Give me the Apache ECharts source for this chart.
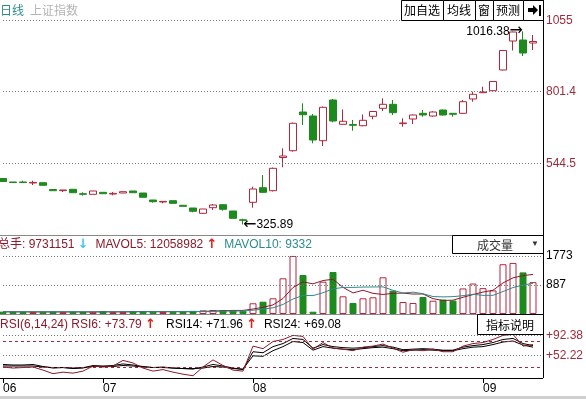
<!DOCTYPE html>
<html>
<head>
<meta charset="utf-8">
<script src="https://cdn.jsdelivr.net/npm/echarts@6/dist/echarts.min.js"></script>
<style>
html, body { margin: 0; padding: 0; background: #fff; }
#chart { width: 586px; height: 399px; }
</style>
</head>
<body>
<div id="chart"></div>
<script>
// 上证指数 日线, 54 trading days
const monthTicks = [0, 10, 25, 48];
const monthLabels = ['06', '07', '08', '09'];

const openList = [490.2, 477.7, 477.7, 474.1, 475.2, 450.8, 446.9, 451.6, 435.8, 433.7,
  440.8, 434.7, 438.3, 445.5, 438.3, 413.3, 406.2, 410.8, 394.4, 384.7,
  365.8, 385.8, 396.5, 374.0, 342.5, 405.1, 457.3, 446.6, 565.2, 589.5,
  727.9, 713.6, 625.3, 770.8, 683.9, 683.2, 678.9, 712.5, 741.1, 755.4,
  686.4, 702.9, 723.2, 713.6, 735.0, 723.2, 723.2, 774.4, 796.9, 804.1,
  878.1, 981.7, 985.3, 974.6];
const closeList = [479.4, 475.9, 475.9, 476.2, 465.9, 446.6, 449.1, 439.4, 433.7, 445.5,
  435.8, 436.9, 443.0, 439.4, 423.0, 407.2, 408.3, 401.5, 390.8, 372.9,
  381.1, 395.4, 380.1, 347.9, 340.7, 452.6, 440.8, 526.6, 570.6, 687.5,
  718.3, 627.8, 744.7, 695.7, 694.7, 680.4, 698.2, 729.7, 755.4, 725.4,
  688.6, 717.2, 717.2, 727.9, 717.2, 719.7, 764.7, 791.2, 799.4, 837.0,
  947.8, 1013.9, 938.8, 980.0];
const lowList = [477.7, 475.9, 475.9, 466.9, 465.9, 446.6, 441.9, 439.4, 428.7, 433.7,
  435.8, 430.1, 438.3, 439.4, 423.0, 403.7, 401.5, 401.5, 390.8, 369.3,
  363.3, 377.6, 375.1, 347.9, 325.89, 385.8, 438.3, 443.7, 530.2, 586.0,
  681.4, 616.0, 606.4, 691.1, 683.2, 661.0, 676.8, 701.8, 731.5, 717.2,
  675.4, 685.0, 711.1, 711.1, 715.4, 711.1, 720.8, 764.7, 796.9, 803.0,
  876.3, 947.8, 928.1, 949.5];
const highList = [491.9, 477.7, 482.3, 482.3, 475.2, 450.8, 449.1, 451.6, 440.8, 445.5,
  440.8, 441.9, 443.0, 445.5, 438.3, 413.3, 409.7, 410.8, 394.4, 384.7,
  381.1, 399.0, 399.0, 374.0, 346.4, 460.9, 502.7, 529.5, 598.1, 690.4,
  759.0, 720.8, 747.6, 774.4, 736.8, 699.3, 719.0, 731.5, 776.9, 770.8,
  705.4, 719.0, 735.0, 730.4, 736.8, 724.3, 770.8, 800.5, 818.3, 838.7,
  947.8, 1015.7, 1016.38, 1003.2];

// 成交量 (万手)
const volList = [72, 65, 60, 62, 68, 70, 58, 66, 60, 64,
  90, 60, 62, 85, 88, 70, 62, 65, 70, 95,
  110, 120, 115, 105, 95, 327, 376, 480, 1090, 1773,
  1191, 70, 987, 1283, 540, 336, 480, 510, 1121, 712,
  367, 336, 519, 406, 440, 410, 780, 930, 790, 720,
  1520, 1560, 1270, 973];
const mavol5 = [68, 67, 66, 65, 65, 65, 64, 65, 64, 64,
  68, 68, 67, 72, 77, 73, 73, 74, 71, 72,
  80, 92, 102, 109, 109, 152, 204, 277, 474, 809,
  982, 921, 1022, 1061, 814, 643, 725, 630, 597, 632,
  638, 609, 611, 468, 414, 422, 511, 593, 670, 726,
  948, 1104, 1172, 1209];
const mavol10 = [66, 66, 66, 66, 66, 66, 66, 66, 66, 65,
  66, 66, 66, 68, 70, 70, 71, 71, 72, 75,
  77, 83, 88, 90, 91, 116, 148, 189, 291, 459,
  567, 562, 649, 767, 812, 813, 823, 826, 829, 723,
  641, 667, 620, 533, 523, 530, 560, 602, 569, 570,
  685, 808, 883, 939];

const rsi6 = [30, 28, 29, 30, 24, 17, 20, 18, 22, 32,
  30, 32, 43, 38, 28, 22, 25, 20, 16, 13,
  30, 44, 33, 24, 22, 71, 66, 80, 84, 92,
  90, 65, 78, 67, 65, 62, 69, 71, 75, 67,
  59, 64, 62, 65, 60, 60, 71, 76, 78, 84,
  92, 94, 71, 74];
const rsi14 = [35, 34, 34, 35, 31, 28, 29, 27, 28, 33,
  32, 33, 36, 34, 31, 29, 30, 28, 27, 26,
  30, 35, 32, 28, 25, 60, 58, 70, 76, 86,
  84, 67, 74, 70, 68, 67, 68, 70, 72, 69,
  64, 65, 66, 65, 63, 63, 69, 72, 74, 78,
  84, 86, 76, 72];
const rsi24 = [32, 32, 32, 32, 30, 29, 29, 28, 29, 31,
  31, 31, 33, 32, 30, 29, 29, 28, 27, 27,
  28, 31, 30, 27, 26, 52, 51, 62, 70, 80,
  78, 63, 70, 67, 65, 64, 66, 68, 69, 66,
  62, 63, 64, 63, 62, 62, 66, 69, 70, 74,
  79, 81, 73, 69];

const priceTicks = [1055, 801.4, 544.5];
const volTicks = [1773, 887];
const rsiTicks = [92.38, 52.22];
const rsiBands = [80, 30];

const RED = '#b3273d';
const GREEN = '#1d8a1d';
const LABEL_RED = '#9c2b3c';
const DARK_RED = '#8b1a2b';
const TEAL = '#2e8b8b';
const FONT = '"Liberation Sans", "Noto Sans CJK SC", sans-serif';
const CJK = '"Noto Sans CJK SC", sans-serif';
const ARROW = '"DejaVu Sans", sans-serif';

// one extra empty slot at the right end
const cats = openList.map((_, i) => String(i)).concat([String(openList.length)]);
const candles = openList.map((o, i) => [o, closeList[i], lowList[i], highList[i]]);
const volBars = volList.map((v, i) => closeList[i] >= openList[i]
  ? { value: v, itemStyle: { color: '#fff', borderColor: RED, borderWidth: 1 } }
  : { value: v, itemStyle: { color: GREEN, borderColor: GREEN, borderWidth: 1 } });

function xAxisOf(idx) {
  return {
    type: 'category', gridIndex: idx, data: cats, boundaryGap: false,
    axisLine: { show: false }, axisTick: { show: false },
    axisLabel: { show: false }, splitLine: { show: false }
  };
}

function dotted(values, color, prefix) {
  return values.map(v => ({
    yAxis: v,
    label: { formatter: prefix + v, color: color }
  }));
}

const hline = (x1, y1, x2, y2, color) => ({
  type: 'line', silent: true, z: 10,
  shape: { x1: x1, y1: y1, x2: x2, y2: y2 },
  style: { stroke: color, lineWidth: 1 }
});
const txt = (x, y, text, fill, font, align) => ({
  type: 'text', silent: true, z: 12, x: x, y: y,
  style: { text: text, fill: fill, font: font, verticalAlign: 'middle', align: align || 'left' }
});
const box = (x, y, w, h) => ({
  type: 'rect', silent: true, z: 11,
  shape: { x: x + 0.5, y: y + 0.5, width: w, height: h },
  style: { fill: '#fff', stroke: '#000', lineWidth: 1 }
});

function initChart() {
  let chart = echarts.init(document.getElementById('chart'));
  const x3 = xAxisOf(2);
  x3.axisTick = {
    show: true, length: 5, lineStyle: { color: '#000' },
    interval: (i) => monthTicks.includes(i)
  };
  x3.axisLabel = {
    show: true, align: 'left', margin: 5, fontSize: 12, color: '#000', fontFamily: FONT,
    interval: (i) => monthTicks.includes(i),
    formatter: (v) => {
      const j = monthTicks.indexOf(+v);
      return j >= 0 ? monthLabels[j] : '';
    }
  };

  chart.setOption({
    animation: false,
    backgroundColor: '#fff',
    textStyle: { fontFamily: FONT },
    grid: [
      { left: 3, width: 540, top: 20, height: 215, outerBoundsMode: 'none' },
      { left: 3, width: 540, top: 235, height: 79, outerBoundsMode: 'none' },
      { left: 3, width: 540, top: 316, height: 62, outerBoundsMode: 'none' }
    ],
    xAxis: [xAxisOf(0), xAxisOf(1), x3],
    yAxis: [
      { type: 'value', gridIndex: 0, min: 288.2, max: 1056.8, show: false },
      { type: 'value', gridIndex: 1, min: 0, max: 2413, show: false },
      { type: 'value', gridIndex: 2, min: 8.5, max: 130, show: false }
    ],
    series: [
      {
        name: '日线', type: 'candlestick', xAxisIndex: 0, yAxisIndex: 0,
        data: candles, barWidth: 7, clip: false,
        itemStyle: { color: '#fff', color0: GREEN, borderColor: RED, borderColor0: GREEN, borderWidth: 1 },
        markLine: {
          symbol: 'none', silent: true,
          lineStyle: { color: '#777', type: [1, 2], width: 1 },
          label: { position: 'end', distance: 3, fontSize: 12, fontFamily: FONT },
          data: dotted(priceTicks, LABEL_RED, '')
        },
        markPoint: {
          symbol: 'circle', symbolSize: 0, silent: true,
          label: {
            color: '#000', fontSize: 12, fontFamily: FONT, distance: 0,
            rich: {
              v: { color: '#000', fontSize: 12, fontFamily: FONT },
              a: { color: '#000', fontSize: 16, fontFamily: ARROW }
            }
          },
          data: [
            { type: 'max', valueDim: 'highest', label: { position: 'left', formatter: p => '{v|' + p.value + '}{a|→}' } },
            { type: 'min', valueDim: 'lowest', label: { position: 'right', formatter: p => '{a|←}{v|' + p.value + '}' } }
          ]
        }
      },
      {
        name: '成交量', type: 'bar', xAxisIndex: 1, yAxisIndex: 1,
        data: volBars, barWidth: 7,
        markLine: {
          symbol: 'none', silent: true,
          lineStyle: { color: '#777', type: [1, 2], width: 1 },
          label: { position: 'end', distance: 3, fontSize: 12, fontFamily: FONT },
          data: dotted(volTicks, '#000', '')
        }
      },
      {
        name: 'MAVOL5', type: 'line', xAxisIndex: 1, yAxisIndex: 1, data: mavol5,
        symbol: 'none', lineStyle: { color: DARK_RED, width: 1 }, z: 3
      },
      {
        name: 'MAVOL10', type: 'line', xAxisIndex: 1, yAxisIndex: 1, data: mavol10,
        symbol: 'none', lineStyle: { color: TEAL, width: 1 }, z: 3
      },
      {
        name: 'RSI6', type: 'line', xAxisIndex: 2, yAxisIndex: 2, data: rsi6,
        symbol: 'none', lineStyle: { color: DARK_RED, width: 1 }, z: 4,
        markLine: {
          symbol: 'none', silent: true,
          lineStyle: { color: '#777', type: [1, 2], width: 1 },
          label: { position: 'end', distance: 3, fontSize: 12, fontFamily: FONT },
          data: dotted(rsiTicks, LABEL_RED, '+').concat(rsiBands.map(v => ({
            yAxis: v, label: { show: false },
            lineStyle: { color: LABEL_RED, type: [3, 3], width: 1 }
          })))
        }
      },
      {
        name: 'RSI14', type: 'line', xAxisIndex: 2, yAxisIndex: 2, data: rsi14,
        symbol: 'none', lineStyle: { color: '#000', width: 1 }, z: 3
      },
      {
        name: 'RSI24', type: 'line', xAxisIndex: 2, yAxisIndex: 2, data: rsi24,
        symbol: 'none', lineStyle: { color: '#000', width: 1 }, z: 3
      }
    ],
    graphic: [
      // frame
      hline(543.5, 0, 543.5, 378, '#000'),
      hline(0, 235.5, 543, 235.5, '#888'),
      hline(0, 314.5, 543, 314.5, '#888'),
      hline(0, 378.5, 543, 378.5, '#000'),
      { type: 'rect', silent: true, shape: { x: 0, y: 396, width: 586, height: 3 }, style: { fill: '#cfcfcf' } },
      // title
      txt(0, 10, '日线', TEAL, '12px ' + CJK),
      txt(30, 10, '上证指数', '#b4b4b4', '12px ' + CJK),
      // buttons
      box(401, 0, 42, 20), box(443, 0, 32, 20), box(475, 0, 18, 20), box(493, 0, 30, 20), box(523, 0, 20, 20),
      txt(422, 10, '加自选', '#000', '12px ' + CJK, 'center'),
      txt(459, 10, '均线', '#000', '12px ' + CJK, 'center'),
      txt(484, 10, '窗', '#000', '12px ' + CJK, 'center'),
      txt(508, 10, '预测', '#000', '12px ' + CJK, 'center'),
      {
        type: 'polygon', silent: true, z: 12,
        shape: { points: [[528, 8], [533, 8], [533, 5], [538, 10], [533, 15], [533, 12], [528, 12]] },
        style: { fill: '#000' }
      },
      { type: 'rect', silent: true, z: 12, shape: { x: 539, y: 5, width: 2, height: 11 }, style: { fill: '#000' } },
      // volume header
      {
        type: 'text', silent: true, z: 10, x: -2, y: 245,
        style: {
          text: '{r|总手: 9731151 }{c|↓}{r|  MAVOL5: 12058982 }{u|↑}{t|  MAVOL10: 9332}',
          verticalAlign: 'middle',
          rich: {
            r: { fill: DARK_RED, font: '12px ' + FONT },
            c: { fill: '#3cc8e8', font: 'bold 13px ' + ARROW },
            u: { fill: '#e02020', font: 'bold 13px ' + ARROW },
            t: { fill: TEAL, font: '12px ' + FONT }
          }
        }
      },
      box(452, 235, 91, 18),
      txt(495, 245, '成交量', '#333', '12px ' + CJK, 'center'),
      txt(535, 244, '▼', '#333', '8px ' + FONT, 'center'),
      // RSI header
      {
        type: 'text', silent: true, z: 10, x: 0, y: 325,
        style: {
          text: '{r|RSI(6,14,24) RSI6: +73.79 }{u|↑}{k|   RSI14: +71.96 }{u|↑}{k|  RSI24: +69.08}',
          verticalAlign: 'middle',
          rich: {
            r: { fill: DARK_RED, font: '12px ' + FONT },
            u: { fill: '#e02020', font: 'bold 13px ' + ARROW },
            k: { fill: '#000', font: '12px ' + FONT }
          }
        }
      },
      box(477, 314, 66, 20),
      txt(510, 325, '指标说明', '#000', '12px ' + CJK, 'center')
    ]
  });
}

initChart();
</script>
</body>
</html>
